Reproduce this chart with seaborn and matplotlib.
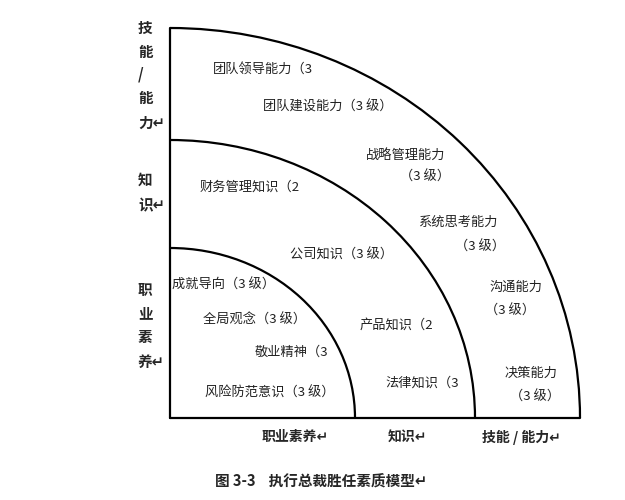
import numpy as np
import matplotlib.pyplot as plt
import seaborn as sns
from matplotlib.patches import Arc

sns.set_theme(style="white")
plt.rcParams['font.family'] = ['Noto Sans CJK SC', 'DejaVu Sans']

# ring radii in pixels (horizontal, vertical), origin at lower-left corner
origin = (170, 418)
rx = [185, 305, 410]
ry = [170, 278, 390]

ring_labels = [
    ("团队领导能力（3", 213, 70), ("团队建设能力（3 级）", 263, 107),
    ("战略管理能力", 366, 155), ("（3 级）", 400, 177),
    ("系统思考能力", 418, 222), ("（3 级）", 455, 247),
    ("沟通能力", 490, 287), ("（3 级）", 485, 311),
    ("决策能力", 505, 373), ("（3 级）", 510, 397),
    ("财务管理知识（2", 200, 187), ("公司知识（3 级）", 290, 255),
    ("产品知识（2", 360, 325), ("法律知识（3", 385, 383),
    ("成就导向（3 级）", 172, 285), ("全局观念（3 级）", 203, 320),
    ("敬业精神（3", 255, 352), ("风险防范意识（3 级）", 205, 393),
]
side_labels = [("技", 28), ("能", 52), ("/", 75), ("能", 98), ("力↵", 123),
               ("知", 180), ("识↵", 205),
               ("职", 290), ("业", 313), ("素", 337), ("养↵", 362)]
bottom_labels = [("职业素养↵", 262), ("知识↵", 388), ("技能 / 能力↵", 482)]
caption = "图 3-3    执行总裁胜任素质模型↵"

fig = plt.figure(figsize=(6.25, 5), dpi=100)
ax = fig.add_axes([0, 0, 1, 1])
ax.set_xlim(0, 625)
ax.set_ylim(500, 0)
ax.axis('off')

for a, b in zip(rx, ry):
    ax.add_patch(Arc(origin, 2 * a, 2 * b, theta1=270, theta2=360, color='black', lw=1.6))
ax.plot([origin[0], origin[0]], [origin[1], origin[1] - ry[-1]], color='black', lw=1.6)
ax.plot([origin[0], origin[0] + rx[-1]], [origin[1], origin[1]], color='black', lw=1.6)

for t, x, y in ring_labels:
    ax.text(x, y, t, fontsize=9.5, va='center', ha='left', color='#222222')
for t, y in side_labels:
    ax.text(138, y, t, fontsize=10.5, fontweight='bold', va='center', ha='left')
for t, x in bottom_labels:
    ax.text(x, 437, t, fontsize=10, fontweight='bold', va='center', ha='left')
ax.text(215, 482, caption, fontsize=10.5, fontweight='bold', va='center', ha='left')

fig.savefig('out.png', dpi=100, facecolor='white')
